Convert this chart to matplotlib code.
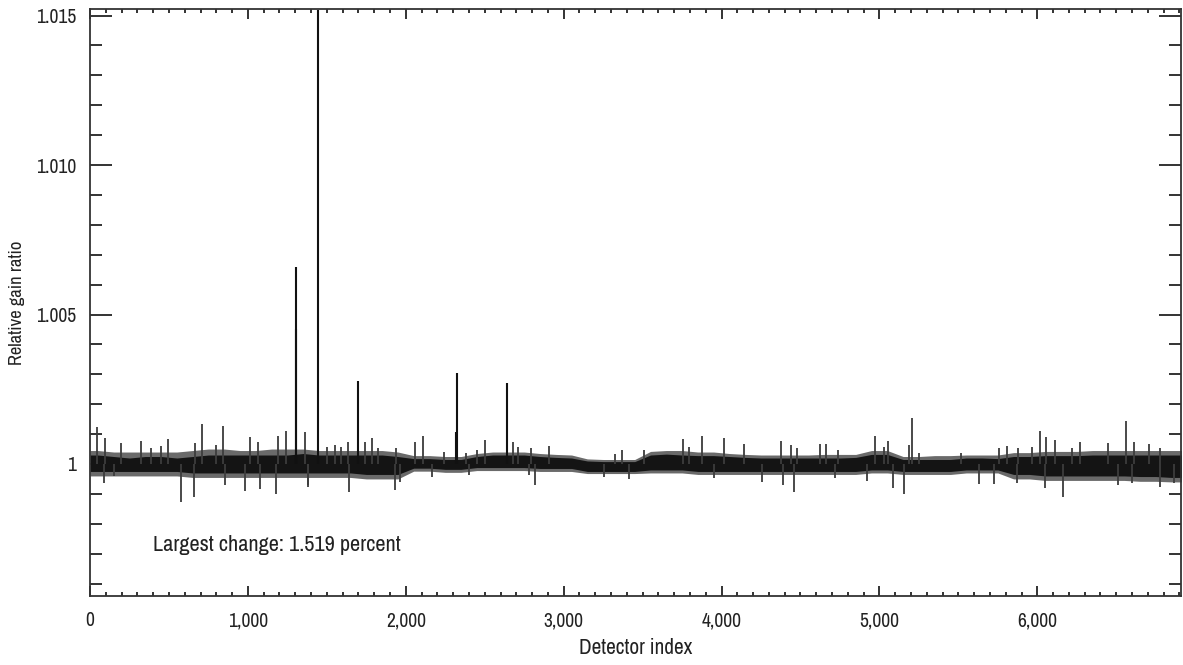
import numpy as np
import matplotlib
matplotlib.use('Agg')
import matplotlib.pyplot as plt
import matplotlib.font_manager as fm
from matplotlib.ticker import MultipleLocator, FuncFormatter

# pick a narrow face if one is installed (reference uses a condensed sans)
family, stretch = 'Liberation Sans', 'normal'
for f in fm.fontManager.ttflist:
    if f.style != 'normal' or f.weight not in (400, 'normal', 'regular'):
        continue
    if 'Narrow' in f.name or 'Condensed' in f.name:
        family, stretch = f.name, f.stretch
        break
    if str(f.stretch) in ('condensed', 'semi-condensed'):
        family, stretch = f.name, f.stretch
plt.rcParams['font.family'] = [family, 'DejaVu Sans']
plt.rcParams['font.stretch'] = stretch

# dense noise band, read per 100-detector bin (offset from 1, units of 1e-4)
bin_center = [0] + list(range(50, 7000, 100)) + [7000]
band_hi = [3, 3, 2.5, 2, 2.5, 2.5, 2, 2.5, 3, 3, 3,
           3, 3, 3, 3.5, 3, 3, 3, 3, 3, 2.5,
           1.8, 1.8, 1.5, 1.5, 2.5, 3, 3, 3, 2.5, 2.2,
           2, 1, 0.8, 0.8, 0.8, 3, 3.3, 3, 2.8, 2.8,
           2.5, 2.2, 2, 2, 2, 2, 2, 2, 2.2, 3.2,
           3.2, 1.5, 1.5, 1.5, 1.5, 2, 2, 1.8, 2.5, 2.5,
           2.8, 2.8, 2.8, 3, 3, 3, 3, 3, 3, 3, 3]
band_lo = [-2.5, -2.5, -2.5, -2.5, -2.5, -2.5, -2.5, -3, -3, -3, -3,
           -3, -3, -3, -3, -3, -3, -3, -3.5, -3.5, -3.5,
           -1.4, -1.4, -1.8, -1.8, -1.2, -1.2, -1.2, -1.2, -1.5, -1.5,
           -1.5, -2.5, -2.5, -2.5, -2.5, -2, -2, -2, -2.5, -2.5,
           -2.5, -2.5, -2.5, -2.5, -2.5, -2.5, -2.5, -2.5, -2.5, -2,
           -2, -2.5, -2.5, -2.5, -2.5, -2, -2, -2, -3.5, -3.5,
           -4, -4, -4, -4, -4, -4, -4.2, -4.2, -4.5, -4.5, -4.5]
# lighter fringe of the band
fringe_hi = [4.5, 4.5, 4, 4, 4, 4, 4, 4.5, 5, 5, 4.5,
             4.5, 5, 5, 5, 4.5, 4.5, 4.5, 4.5, 4.5, 4,
             2.8, 2.8, 2.5, 2.5, 3.5, 4, 4, 4, 3.5, 3.2,
             3, 1.7, 1.5, 1.5, 1.5, 4.2, 4.5, 4.5, 4, 4,
             3.5, 3.2, 3, 3, 3, 3, 3.2, 3.2, 3.2, 4.5,
             4.5, 2.5, 2.5, 2.8, 2.8, 3, 3, 3, 3.8, 3.8,
             4.2, 4.2, 4.2, 4.5, 4.5, 4.5, 4.5, 4.5, 4.5, 4.5, 4.5]
fringe_lo = [-4, -4, -4, -4, -4, -4, -4, -4.5, -4.5, -4.5, -4.5,
             -4.5, -4.5, -4.5, -4.5, -4.5, -4.5, -4.5, -5, -5, -5,
             -2.4, -2.4, -2.8, -2.8, -2.2, -2.2, -2.2, -2.2, -2.5, -2.5,
             -2.5, -3.2, -3.2, -3.2, -3.2, -3, -3, -3, -3.5, -3.5,
             -3.5, -3.5, -3.5, -3.5, -3.5, -3.5, -3.5, -3.5, -3.5, -3,
             -3, -3.5, -3.5, -3.5, -3.5, -3, -3, -3, -5, -5,
             -5.5, -5.5, -5.5, -5.5, -5.5, -5.5, -5.8, -5.8, -6, -6, -6]

# individual detectors that stick out of the band
spike_x = [46, 97, 198, 325, 384, 447, 494, 667, 709, 800, 842, 1011, 1064, 1191, 1243, 1360,
           89, 152, 574, 659, 853, 980, 1075, 1180, 1380,
           1499, 1552, 1590, 1636, 1742, 1784, 1826, 1936, 2058, 2111, 2244, 2384, 2449, 2502,
           2681, 2711,
           1383, 1640, 1932, 1962, 2164, 2400, 2780,
           2795, 2909, 3323, 3369, 3507, 3755, 3795, 3876, 4017, 4140,
           2816, 3253, 3411, 3950,
           4374, 4437, 4480, 4623, 4663, 4740, 4971, 5029, 5056, 5187, 5208, 5250,
           4254, 4391, 4459, 4720, 4923, 5086, 5155,
           5516, 5759, 5805, 5875, 5966, 6016, 6054, 6113, 6221, 6270, 6445, 6561, 6614,
           6705, 6776,
           5628, 5727, 5869, 6050, 6160, 6510, 6600, 6780, 6865]
spike_y = [1.00125, 1.00086, 1.00069, 1.00077, 1.00055, 1.00061, 1.00083, 1.00069, 1.00133,
           1.00064, 1.00128, 1.00091, 1.00075, 1.00095, 1.0011, 1.00108,
           0.99935, 0.99961, 0.99872, 0.99891, 0.9993, 0.9991, 0.99915, 0.99899, 0.9993,
           1.00058, 1.00062, 1.00058, 1.00073, 1.00074, 1.00086, 1.00052, 1.00052, 1.00073,
           1.00095, 1.00041, 1.00036, 1.00046, 1.0008, 1.00074, 1.00058,
           0.99924, 0.99905, 0.99913, 0.9994, 0.99958, 0.99963, 0.99963,
           1.00052, 1.0006, 1.00032, 1.00047, 1.00047, 1.00084, 1.00058, 1.00095, 1.00088, 1.00066,
           0.9993, 0.99958, 0.9995, 0.99952,
           1.00077, 1.00064, 1.00052, 1.00066, 1.00068, 1.00047, 1.00095, 1.00058, 1.00077,
           1.00064, 1.00155, 1.00036,
           0.99939, 0.9993, 0.99905, 0.99953, 0.99942, 0.99919, 0.99899,
           1.00036, 1.00052, 1.00061, 1.00055, 1.00058, 1.0011, 1.00091, 1.0008, 1.00052,
           1.00074, 1.00069, 1.00144, 1.00073, 1.00066, 1.00055,
           0.99932, 0.99932, 0.99935, 0.99921, 0.99891, 0.9993, 0.99935, 0.99924, 0.99935]

# large outliers
big_x = [1304, 1306, 1444, 1699, 2321, 2323, 2643]
big_y = [1.0045, 1.0066, 1.01519, 1.00278, 1.00108, 1.00303, 1.00272]

fig = plt.figure(figsize=(11.83, 6.65), dpi=100)
ax = fig.add_axes([0.0761, 0.1038, 0.9222, 0.8827])

ax.fill_between(bin_center, 1 + np.array(fringe_lo) * 1e-4, 1 + np.array(fringe_hi) * 1e-4,
                color='#6a6a6a', lw=0, zorder=2)
ax.fill_between(bin_center, 1 + np.array(band_lo) * 1e-4, 1 + np.array(band_hi) * 1e-4,
                color='#141414', lw=0, zorder=2)
ax.vlines(spike_x, 1.0, spike_y, color='#3c3c3c', lw=1.3, zorder=3)
ax.vlines(big_x, 1.0, big_y, color='#111111', lw=1.5, zorder=4)

ax.set_xlim(0, 6910)
ax.set_ylim(0.995585, 1.01522)

ax.xaxis.set_major_locator(MultipleLocator(1000))
ax.xaxis.set_minor_locator(MultipleLocator(100))
ax.yaxis.set_major_locator(MultipleLocator(0.005))
ax.yaxis.set_minor_locator(MultipleLocator(0.001))
ax.xaxis.set_major_formatter(FuncFormatter(lambda v, p: f'{int(round(v)):,}'))
ax.yaxis.set_major_formatter(FuncFormatter(lambda v, p: '1' if abs(v - 1) < 1e-9 else f'{v:.3f}'))

# size the texts so their widths match the reference
r = fig.canvas.get_renderer()
probe = fig.text(0, 0, '1,000', fontsize=10)
tick_size = 1.2 * 10 * 33 / probe.get_window_extent(r).width
probe.remove()

ax.tick_params(axis='both', which='both', direction='in', top=True, right=True,
               colors='#333333', labelcolor='#222222', labelsize=tick_size)
ax.tick_params(axis='y', which='major', length=16, width=1.4, pad=10)
ax.tick_params(axis='y', which='minor', length=8.5, width=1.4)
ax.tick_params(axis='x', which='major', length=7, width=1.4, pad=11)
ax.tick_params(axis='x', which='minor', length=3, width=1.4)
for s in ax.spines.values():
    s.set_color('#333333')
    s.set_linewidth(1.3)

xl = ax.set_xlabel('Detector index', fontsize=10, color='#222222')
yl = ax.set_ylabel('Relative gain ratio', fontsize=10, color='#222222')
note = ax.text(400, 0.99729, 'Largest change: 1.519 percent', fontsize=10,
               color='#222222', va='center', ha='left')
for t, target, horiz in ((xl, 114, True), (yl, 125, False), (note, 249, True)):
    bb = t.get_window_extent(r)
    t.set_fontsize(10 * target / (bb.width if horiz else bb.height))

ax.xaxis.set_label_coords(0.5, -52 / 587)
xl.set_va('center')
ax.yaxis.set_label_coords(-73 / 1091, 0.5)
yl.set_va('center')

fig.savefig('out.png', dpi=100)
